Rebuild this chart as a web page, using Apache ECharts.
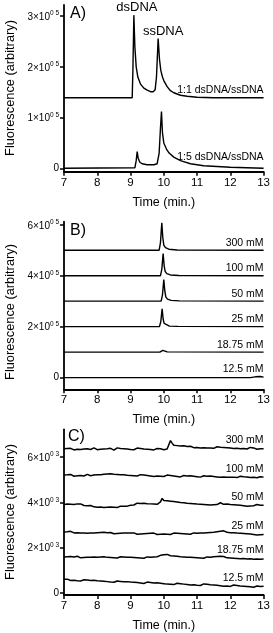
<!DOCTYPE html>
<html><head><meta charset="utf-8">
<script src="https://cdn.jsdelivr.net/npm/echarts@6/dist/echarts.min.js"></script>
<style>html,body{margin:0;padding:0;background:#fff}#c{width:273px;height:633px}</style>
</head><body><div id="c"></div>
<script>
// ---------- shared ----------
const xTicks = [7, 8, 9, 10, 11, 12, 13];
const xTitle = 'Time (min.)';
const yTitle = 'Fluorescence (arbitrary)';
const panelLabels = ['A)', 'B)', 'C)'];

// ---------- panel A (values in units of 10^5) ----------
const yTickValsA = [0, 1, 2, 3];
const yTickTextA = ['0', '1×10^0 5', '2×10^0 5', '3×10^0 5'];
const traceA_11 = [[7,1.39],[9.05,1.39],[9.07,1.9],[9.1,3.02],[9.13,2.4],[9.17,2.0],[9.22,1.8],[9.3,1.66],[9.4,1.58],[9.5,1.54],[9.6,1.51],[9.68,1.51],[9.74,1.55],[9.78,1.8],[9.83,2.56],[9.87,2.15],[9.91,1.93],[9.96,1.8],[10.0,1.73],[10.1,1.61],[10.2,1.53],[10.3,1.49],[10.5,1.44],[10.7,1.42],[11.0,1.40],[11.5,1.39],[13,1.39]];
const traceA_15 = [[7,0],[9.13,0.01],[9.17,0.15],[9.2,0.33],[9.23,0.2],[9.28,0.12],[9.35,0.09],[9.5,0.07],[9.7,0.07],[9.8,0.09],[9.86,0.3],[9.9,0.8],[9.93,1.12],[9.96,0.7],[10.0,0.5],[10.08,0.38],[10.16,0.3],[10.3,0.22],[10.5,0.15],[10.8,0.09],[11.2,0.05],[12,0.02],[13,0.0]];
const traceLabelsA = ['1:1 dsDNA/ssDNA', '1:5 dsDNA/ssDNA'];
const peakNamesA = ['dsDNA', 'ssDNA'];
const peakPosA = [[9.1, 3.02], [9.83, 2.56]];

// ---------- panel B (values in units of 10^5) ----------
const yTickValsB = [0, 2, 4, 6];
const yTickTextB = ['0', '2×10^0 5', '4×10^0 5', '6×10^0 5'];
const traceLabelsB = ['300 mM', '100 mM', '50 mM', '25 mM', '18.75 mM', '12.5 mM'];
const traceB_300 = [[7,5.0],[9.86,5.0],[9.9,5.3],[9.94,6.08],[9.97,5.5],[10.0,5.2],[10.05,5.1],[10.15,5.04],[10.4,5.01],[13,5.0]];
const traceB_100 = [[7,4.0],[9.9,4.0],[9.94,4.25],[9.98,4.87],[10.01,4.4],[10.04,4.17],[10.09,4.08],[10.2,4.03],[10.45,4.01],[13,4.0]];
const traceB_50  = [[7,3.0],[9.92,3.0],[9.96,3.25],[10.0,3.85],[10.03,3.4],[10.06,3.17],[10.11,3.08],[10.22,3.03],[10.47,3.01],[13,3.0]];
const traceB_25  = [[7,2.0],[9.87,2.0],[9.91,2.2],[9.95,2.7],[9.98,2.3],[10.01,2.13],[10.06,2.06],[10.17,2.02],[10.42,2.01],[13,2.0]];
const traceB_1875 = [[7,1.0],[9.88,1.0],[9.93,1.03],[9.97,1.07],[10.02,1.03],[10.1,1.01],[13,1.0]];
const traceB_125 = [[7,0],[8.4,0],[8.45,0.015],[8.5,0],[12.6,0],[12.75,0.03],[12.9,0.04],[13,0.02]];

// ---------- panel C (values in units of 10^3) ----------
const yTickValsC = [0, 2, 4, 6];
const yTickTextC = ['0', '2×10^0 3', '4×10^0 3', '6×10^0 3'];
const traceLabelsC = ['300 mM', '100 mM', '50 mM', '25 mM', '18.75 mM', '12.5 mM'];
const timeC = [
  7.00,7.05,7.10,7.15,7.20,7.25,7.30,7.35,7.40,7.45,7.50,7.55,7.60,7.65,7.70,7.75,7.80,7.85,7.90,7.95,
  8.00,8.05,8.10,8.15,8.20,8.25,8.30,8.35,8.40,8.45,8.50,8.55,8.60,8.65,8.70,8.75,8.80,8.85,8.90,8.95,
  9.00,9.05,9.10,9.15,9.20,9.25,9.30,9.35,9.40,9.45,9.50,9.55,9.60,9.65,9.70,9.75,9.80,9.85,9.90,9.95,
  10.00,10.05,10.10,10.15,10.20,10.25,10.30,10.35,10.40,10.45,10.50,10.55,10.60,10.65,10.70,10.75,10.80,10.85,10.90,10.95,
  11.00,11.05,11.10,11.15,11.20,11.25,11.30,11.35,11.40,11.45,11.50,11.55,11.60,11.65,11.70,11.75,11.80,11.85,11.90,11.95,
  12.00,12.05,12.10,12.15,12.20,12.25,12.30,12.35,12.40,12.45,12.50,12.55,12.60,12.65,12.70,12.75,12.80,12.85,12.90,12.95,
  13.00];
const traceC_300 = [
  6.36,6.33,6.37,6.32,6.38,6.35,6.31,6.36,6.34,6.39,6.33,6.37,6.35,6.30,6.36,6.38,6.33,6.36,6.40,6.34,
  6.32,6.37,6.34,6.39,6.35,6.31,6.36,6.33,6.38,6.35,6.30,6.36,6.40,6.34,6.37,6.33,6.36,6.31,6.35,6.38,
  6.33,6.36,6.32,6.37,6.39,6.34,6.37,6.32,6.35,6.30,6.34,6.38,6.33,6.36,6.31,6.35,6.37,6.33,6.36,6.34,
  6.32,6.37,6.35,6.41,6.72,6.61,6.52,6.47,6.50,6.44,6.48,6.45,6.49,6.43,6.46,6.42,6.47,6.44,6.41,6.45,
  6.42,6.46,6.40,6.44,6.41,6.45,6.39,6.43,6.40,6.44,6.38,6.42,6.45,6.40,6.43,6.39,6.42,6.37,6.41,6.44,
  6.39,6.42,6.37,6.41,6.38,6.43,6.36,6.40,6.37,6.41,6.35,6.39,6.42,6.36,6.40,6.37,6.34,6.39,6.36,6.38,
  6.36];
const traceC_100 = [
  5.20,5.17,5.21,5.18,5.23,5.19,5.15,5.20,5.17,5.22,5.18,5.21,5.16,5.20,5.23,5.19,5.17,5.22,5.20,5.24,
  5.21,5.25,5.22,5.27,5.24,5.28,5.25,5.30,5.26,5.29,5.24,5.27,5.23,5.26,5.22,5.25,5.21,5.24,5.19,5.22,
  5.18,5.21,5.17,5.20,5.16,5.19,5.22,5.17,5.20,5.15,5.18,5.21,5.16,5.19,5.14,5.18,5.16,5.20,5.15,5.18,
  5.14,5.17,5.20,5.15,5.18,5.13,5.16,5.19,5.14,5.17,5.12,5.15,5.18,5.13,5.16,5.14,5.17,5.12,5.15,5.18,
  5.13,5.16,5.11,5.14,5.17,5.12,5.15,5.13,5.16,5.11,5.14,5.17,5.12,5.15,5.10,5.14,5.12,5.15,5.11,5.13,
  5.10,5.14,5.11,5.15,5.09,5.12,5.15,5.10,5.13,5.08,5.12,5.14,5.09,5.12,5.10,5.13,5.08,5.11,5.13,5.09,
  5.11];
const traceC_50 = [
  3.90,3.87,3.92,3.88,3.91,3.86,3.90,3.88,3.93,3.97,3.93,3.89,3.86,3.90,3.85,3.83,3.86,3.81,3.80,3.83,
  3.78,3.76,3.79,3.75,3.77,3.74,3.78,3.76,3.79,3.75,3.78,3.81,3.77,3.80,3.83,3.79,3.82,3.86,3.83,3.85,
  3.87,3.90,3.88,3.93,3.96,3.99,3.95,3.92,3.96,3.91,3.94,3.90,3.93,3.89,3.92,3.95,3.91,3.97,4.02,4.17,
  4.08,4.04,4.07,4.02,4.05,4.00,4.03,3.98,4.01,3.96,3.99,3.95,3.98,3.93,3.96,3.92,3.95,3.91,3.94,3.90,
  3.92,3.88,3.91,3.87,3.90,3.86,3.89,3.92,3.88,3.91,3.89,3.93,3.90,3.95,3.98,3.94,3.91,3.88,3.92,3.87,
  3.90,3.86,3.89,3.85,3.88,3.84,3.87,3.90,3.85,3.88,3.83,3.87,3.84,3.88,3.85,3.82,3.90,3.84,3.87,3.85,
  3.87];
const traceC_25 = [
  2.69,2.66,2.70,2.67,2.72,2.68,2.65,2.69,2.66,2.70,2.64,2.68,2.65,2.69,2.63,2.67,2.64,2.68,2.65,2.70,
  2.66,2.63,2.67,2.64,2.68,2.62,2.66,2.63,2.67,2.64,2.61,2.65,2.62,2.66,2.63,2.60,2.64,2.61,2.65,2.62,
  2.64,2.61,2.65,2.62,2.59,2.63,2.60,2.64,2.61,2.65,2.62,2.59,2.63,2.60,2.64,2.61,2.58,2.62,2.59,2.63,
  2.60,2.63,2.59,2.62,2.58,2.61,2.64,2.60,2.63,2.59,2.62,2.58,2.61,2.64,2.60,2.63,2.59,2.62,2.65,2.61,
  2.63,2.60,2.64,2.61,2.65,2.62,2.66,2.63,2.67,2.64,2.68,2.66,2.70,2.68,2.72,2.69,2.74,2.71,2.68,2.70,
  2.66,2.63,2.66,2.62,2.64,2.60,2.63,2.59,2.62,2.58,2.61,2.57,2.60,2.62,2.58,2.61,2.56,2.59,2.57,2.60,
  2.58];
const traceC_1875 = [
  1.59,1.56,1.60,1.57,1.61,1.55,1.59,1.56,1.62,1.58,1.55,1.59,1.56,1.60,1.57,1.54,1.58,1.55,1.59,1.56,
  1.58,1.55,1.59,1.56,1.60,1.54,1.57,1.61,1.56,1.59,1.55,1.58,1.54,1.57,1.60,1.56,1.59,1.55,1.58,1.54,
  1.57,1.53,1.56,1.52,1.55,1.58,1.54,1.57,1.53,1.56,1.59,1.55,1.58,1.62,1.59,1.63,1.60,1.64,1.66,1.73,
  1.69,1.66,1.70,1.67,1.64,1.67,1.63,1.66,1.62,1.64,1.60,1.63,1.59,1.62,1.58,1.61,1.57,1.60,1.56,1.59,
  1.55,1.58,1.54,1.57,1.53,1.56,1.59,1.55,1.58,1.56,1.60,1.57,1.61,1.65,1.62,1.59,1.61,1.57,1.55,1.58,
  1.54,1.57,1.53,1.56,1.52,1.55,1.51,1.54,1.52,1.55,1.50,1.53,1.51,1.54,1.49,1.52,1.50,1.53,1.49,1.51,
  1.50];
const traceC_125 = [
  0.60,0.57,0.61,0.58,0.55,0.59,0.56,0.58,0.54,0.57,0.53,0.56,0.58,0.54,0.57,0.52,0.55,0.53,0.56,0.51,
  0.54,0.50,0.53,0.49,0.52,0.55,0.50,0.53,0.48,0.51,0.47,0.50,0.53,0.48,0.51,0.46,0.49,0.47,0.50,0.45,
  0.48,0.44,0.47,0.43,0.46,0.49,0.44,0.47,0.42,0.45,0.48,0.43,0.46,0.41,0.44,0.42,0.45,0.40,0.43,0.46,
  0.41,0.44,0.39,0.42,0.38,0.41,0.37,0.40,0.43,0.38,0.41,0.36,0.39,0.42,0.37,0.40,0.35,0.38,0.36,0.39,
  0.34,0.37,0.33,0.36,0.40,0.35,0.38,0.33,0.36,0.32,0.35,0.31,0.34,0.37,0.32,0.35,0.30,0.33,0.31,0.34,
  0.29,0.32,0.35,0.30,0.33,0.28,0.31,0.27,0.30,0.26,0.29,0.32,0.27,0.30,0.25,0.28,0.31,0.26,0.29,0.27,
  0.30];

// ---------- build ----------
const FONT = '"Liberation Sans", Arial, Helvetica, sans-serif';
const grids = [
  { left: 64, right: 8, top: 5, height: 166.85 },
  { left: 64, right: 8, top: 221.7, height: 167.6 },
  { left: 64, right: 8, top: 429.3, height: 169.4 }
];
const yRanges = [[-0.07, 3.22], [-0.46, 6.12], [-0.09, 7.22]];
const yTickVals = [yTickValsA, yTickValsB, yTickValsC];
const yTickTexts = [yTickTextA, yTickTextB, yTickTextC];

function tickFormatter(vals, texts) {
  return function (v) {
    const i = vals.findIndex(t => Math.abs(t - v) < 1e-6);
    if (i < 0) return '';
    const s = texts[i];
    const k = s.indexOf('^');
    if (k < 0) return '{m|' + s + '}';
    return '{m|' + s.slice(0, k) + '}{s|' + s.slice(k + 1) + '}';
  };
}

const xAxes = grids.map((g, i) => ({
  type: 'value', gridIndex: i, min: 7, max: 13, interval: 1,
  name: xTitle, nameLocation: 'middle', nameGap: 24,
  nameTextStyle: { fontFamily: FONT, fontSize: 12.5, color: '#000' },
  axisLine: { show: true, onZero: false, lineStyle: { color: '#000', width: 1.8 } },
  axisTick: { show: true, inside: false, length: 4, lineStyle: { color: '#000', width: 1.5 } },
  axisLabel: { fontFamily: FONT, fontSize: 11.5, color: '#000', margin: 5,
    customValues: xTicks, formatter: v => String(v) },
  splitLine: { show: false }
}));

const yAxes = grids.map((g, i) => ({
  type: 'value', gridIndex: i, min: yRanges[i][0], max: yRanges[i][1],
  axisLine: { show: true, onZero: false, lineStyle: { color: '#000', width: 1.8 } },
  axisTick: { show: true, inside: false, length: 4, customValues: yTickVals[i], lineStyle: { color: '#000', width: 1.5 } },
  axisLabel: { customValues: yTickVals[i], margin: 5, color: '#000',
    formatter: tickFormatter(yTickVals[i], yTickTexts[i]),
    rich: {
      m: { fontFamily: FONT, fontSize: 10, color: '#000', verticalAlign: 'bottom' },
      s: { fontFamily: FONT, fontSize: 6.5, color: '#000', verticalAlign: 'bottom', padding: [0, 0, 5, 0] }
    } },
  splitLine: { show: false }
}));

function lineSeries(gi, data, width, labelText, labelDy, extraMarks) {
  const last = data[data.length - 1];
  const marks = [{
    coord: last, symbol: 'circle', symbolSize: 0,
    label: { show: true, formatter: labelText, position: [0, 0], align: 'right', verticalAlign: 'middle',
      offset: [0, labelDy], fontFamily: FONT, fontSize: 10.5, color: '#000' }
  }].concat(extraMarks || []);
  return {
    type: 'line', xAxisIndex: gi, yAxisIndex: gi, data: data, showSymbol: false, symbol: 'none',
    lineStyle: { color: '#000', width: width }, silent: true, z: 3,
    markPoint: { silent: true, animation: false, data: marks, itemStyle: { color: 'rgba(0,0,0,0)' } }
  };
}

const peakMarks = peakPosA.map((p, i) => ({
  coord: p, symbol: 'circle', symbolSize: 0,
  label: { show: true, formatter: peakNamesA[i], position: [0, 0], align: 'center', verticalAlign: 'middle',
    offset: i === 0 ? [3, -8] : [5, -7], fontFamily: FONT, fontSize: 13, color: '#000' }
}));

const series = [];
series.push(lineSeries(0, traceA_11, 1.4, traceLabelsA[0], -8, peakMarks));
series.push(lineSeries(0, traceA_15, 1.4, traceLabelsA[1], -11));
const tracesB = [traceB_300, traceB_100, traceB_50, traceB_25, traceB_1875, traceB_125];
tracesB.forEach((t, i) => series.push(lineSeries(1, t, 1.4, traceLabelsB[i], -7.5)));
const tracesC = [traceC_300, traceC_100, traceC_50, traceC_25, traceC_1875, traceC_125];
tracesC.forEach((t, i) => series.push(lineSeries(2, timeC.map((x, j) => [x, t[j]]), 1.5, traceLabelsC[i], -8.5)));

const panelPos = [[70, 6], [70, 223], [68, 429]];
const yTitleCenters = [88, 312, 512];
const graphic = [];
panelLabels.forEach((t, i) => graphic.push({
  type: 'text', x: panelPos[i][0], y: panelPos[i][1], silent: true,
  style: { text: t, fontFamily: FONT, fontSize: 16, fill: '#000', align: 'left', verticalAlign: 'top' }
}));
yTitleCenters.forEach(cy => graphic.push({
  type: 'text', x: 10, y: cy, rotation: Math.PI / 2, silent: true,
  style: { text: yTitle, fontFamily: FONT, fontSize: 12.8, fill: '#000', align: 'center', verticalAlign: 'middle' }
}));

const chart = echarts.init(document.getElementById('c'), null, { renderer: 'canvas' });
chart.setOption({
  animation: false,
  backgroundColor: '#fff',
  grid: grids,
  xAxis: xAxes,
  yAxis: yAxes,
  series: series,
  graphic: graphic
});
</script></body></html>
